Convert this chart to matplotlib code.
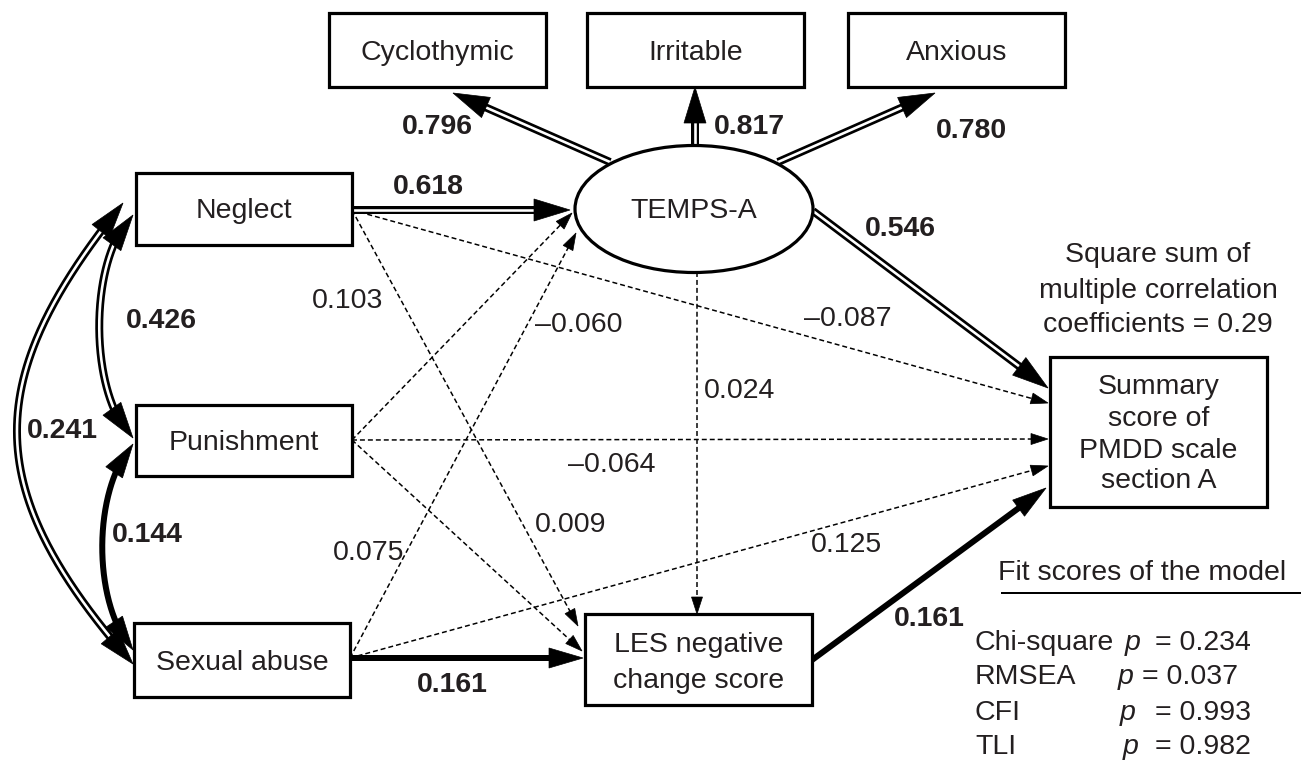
import numpy as np
import matplotlib.pyplot as plt
from matplotlib.patches import Rectangle, Ellipse, Polygon

plt.rcParams['font.family'] = ['Liberation Sans', 'DejaVu Sans']

# 1. 数据
indicators = ['Cyclothymic', 'Irritable', 'Anxious']
loadings = [0.796, 0.817, 0.780]
exposures = ['Neglect', 'Punishment', 'Sexual abuse']
to_temps = [0.618, -0.060, 0.075]
to_les = [0.103, 0.009, 0.161]
to_pmdd = [-0.087, -0.064, 0.125]
temps_to_les = 0.024
temps_to_pmdd = 0.546
les_to_pmdd = 0.161
corr_values = [0.426, 0.144, 0.241]   # N-P, P-S, N-S
r2_value = 0.29
fit_names = ['Chi-square', 'RMSEA', 'CFI', 'TLI']
fit_values = [0.234, 0.037, 0.993, 0.982]

latent_label = 'TEMPS-A'
les_label = ['LES negative', 'change score']
pmdd_label = ['Summary', 'score of', 'PMDD scale', 'section A']

TXT = '#231f20'
FS = 20.5
PX = 0.72  # 1 px in pt
DY = 2.5   # 文字垂直微调

# 2. 布局（像素坐标）
box_pos = {
    'Cyclothymic': (329, 13, 217, 74),
    'Irritable': (587, 13, 217, 74),
    'Anxious': (848, 13, 217, 74),
    'Neglect': (136, 173, 216, 72),
    'Punishment': (136, 405, 216, 71),
    'Sexual abuse': (134, 623, 216, 74),
    'LES': (585, 614, 227, 91),
    'PMDD': (1050, 357, 217, 150),
}
multi_y = {'LES': [643, 678], 'PMDD': [385, 416, 448, 479]}
ell_c, ell_w, ell_h = (694, 209), 238, 127

exp_start = [(352, 210), (352, 440), (350, 658)]
load_start = [(610, 162), (695, 146), (778, 162)]
load_tip = [(453, 93), (695, 87), (935, 93)]
load_lab = [(437, 125), (749, 125), (971, 128)]
temps_tip = [(570, 210), (572, 213), (576, 233)]
temps_lab = [(428, 184), (579, 323), (369, 551)]
temps_sty = ['double', 'dash', 'dash']
les_tip = [(578, 626), (582, 651), (583, 658)]
les_lab = [(348, 298), (571, 522), (452, 683)]
les_sty = ['dash', 'dash', 'thick']
pmdd_tip = [(1048, 403), (1048, 439), (1048, 466)]
pmdd_lab = [(848, 317), (612, 462), (847, 542)]
curves = [
    [(133, 215), (88, 258), (88, 395), (133, 438)],
    [(133, 444), (92, 490), (92, 604), (133, 650)],
    [(123, 203), (-20, 380), (-20, 490), (133, 664)],
]
curve_lab = [(161, 318), (147, 532), (62, 428)]
curve_sty = ['double', 'thick', 'double']

HEADS = {'double': (36, 22), 'thick': (34, 20), 'dash': (17, 11)}


def fmt(v):
    return f'{v:.3f}'.replace('-', '\u2013')


def head(ax, tip, d, length, width):
    d = d / np.hypot(*d)
    n = np.array([-d[1], d[0]])
    base = tip - d * length
    tri = [tip, base + n * width / 2, base - n * width / 2]
    ax.add_patch(Polygon(tri, closed=True, fc='black', ec='black', lw=0.5, zorder=5))


def trim_end(pts, dist):
    tip = pts[-1]
    if len(pts) == 2:
        d = (pts[1] - pts[0]) / np.hypot(*(pts[1] - pts[0]))
        return np.array([pts[0], tip - d * dist]), d
    dd = np.hypot(*(pts - tip).T)
    idx = np.where(dd >= dist)[0]
    last = idx.max()
    # 方向用弦
    return pts[:last + 1], tip - pts[last]


def link(ax, pts, style, both=False):
    pts = np.asarray(pts, float)
    hl, hw = HEADS[style]
    line, d_end = trim_end(pts, hl * 0.7)
    head(ax, pts[-1], d_end, hl, hw)
    if both:
        rev, d_start = trim_end(line[::-1], hl * 0.7)
        line = rev[::-1]
        head(ax, pts[0], d_start, hl, hw)
    x, y = line[:, 0], line[:, 1]
    if style == 'double':
        ax.plot(x, y, color='black', lw=8 * PX, solid_capstyle='butt', zorder=2)
        ax.plot(x, y, color='white', lw=2.6 * PX, solid_capstyle='butt', zorder=3)
    elif style == 'thick':
        ax.plot(x, y, color='black', lw=6 * PX, solid_capstyle='butt', zorder=2)
    else:
        ax.plot(x, y, color='black', lw=1.5 * PX, linestyle=(0, (3.3, 2.0)), zorder=2)


def bezier(p):
    p = np.asarray(p, float)
    t = np.linspace(0, 1, 200)[:, None]
    return ((1 - t) ** 3 * p[0] + 3 * (1 - t) ** 2 * t * p[1]
            + 3 * (1 - t) * t ** 2 * p[2] + t ** 3 * p[3])


def put(ax, x, y, s, **kw):
    kw.setdefault('ha', 'center')
    ax.text(x, y + DY, s, fontsize=FS, color=TXT, va='center', zorder=6, **kw)


def label(ax, xy, v, bold):
    put(ax, xy[0], xy[1], fmt(v), fontweight='bold' if bold else 'normal')


# 3. 绘图
fig = plt.figure(figsize=(13.05, 7.62), dpi=100)
ax = fig.add_axes([0, 0, 1, 1])
ax.set_xlim(0, 1305)
ax.set_ylim(762, 0)
ax.axis('off')

# 方框
for name, (x, y, w, h) in box_pos.items():
    ax.add_patch(Rectangle((x, y), w, h, fc='white', ec='black', lw=3.2 * PX, zorder=4))
    if name in multi_y:
        lines = les_label if name == 'LES' else pmdd_label
        for s, yy in zip(lines, multi_y[name]):
            put(ax, x + w / 2, yy, s)
    else:
        put(ax, x + w / 2, y + h / 2, name)

ax.add_patch(Ellipse(ell_c, ell_w, ell_h, fc='white', ec='black', lw=3.2 * PX, zorder=4))
put(ax, ell_c[0], ell_c[1], latent_label)

# TEMPS-A 因子载荷
for i in range(3):
    link(ax, [load_start[i], load_tip[i]], 'double')
    label(ax, load_lab[i], loadings[i], True)

# 童年经历 -> TEMPS-A / LES / PMDD
for i in range(3):
    link(ax, [exp_start[i], temps_tip[i]], temps_sty[i])
    label(ax, temps_lab[i], to_temps[i], temps_sty[i] != 'dash')
    link(ax, [exp_start[i], les_tip[i]], les_sty[i])
    label(ax, les_lab[i], to_les[i], les_sty[i] != 'dash')
    link(ax, [exp_start[i], pmdd_tip[i]], 'dash')
    label(ax, pmdd_lab[i], to_pmdd[i], False)

link(ax, [(697, 272), (697, 614)], 'dash')
label(ax, (740, 388), temps_to_les, False)
link(ax, [(813, 211), (1048, 388)], 'double')
label(ax, (900, 227), temps_to_pmdd, True)
link(ax, [(812, 660), (1046, 488)], 'thick')
label(ax, (929, 617), les_to_pmdd, True)

# 相关（双向弧线）
for i in range(3):
    link(ax, bezier(curves[i]), curve_sty[i], both=True)
    label(ax, curve_lab[i], corr_values[i], True)

# R2 说明
for s, y in zip(['Square sum of', 'multiple correlation',
                 f'coefficients = {r2_value:.2f}'], [253, 288, 322]):
    put(ax, 1158, y, s)

# 拟合指标
put(ax, 1142, 570, 'Fit scores of the model')
ax.plot([1002, 1300], [593, 593], color='black', lw=2 * PX)
p_x = [1125, 1118, 1120, 1123]
eq_x = [1155, 1142, 1155, 1155]
for i, (nm, v) in enumerate(zip(fit_names, fit_values)):
    y = 640 + 35 * i
    put(ax, 975, y, nm, ha='left')
    put(ax, p_x[i], y, 'p', ha='left', style='italic')
    put(ax, eq_x[i], y, f'= {v:.3f}', ha='left')

fig.savefig('out.png', dpi=100)
